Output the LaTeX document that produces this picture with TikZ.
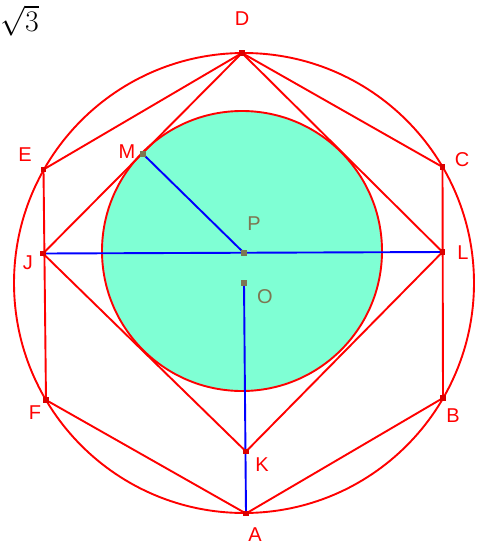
\documentclass[tikz,border=0pt]{standalone}
\usepackage{fontspec}
\newfontfamily\labfont{Liberation Sans}
\definecolor{gred}{RGB}{255,0,0}
\definecolor{gblue}{RGB}{0,0,255}
\definecolor{ggreen}{RGB}{127,255,212}
\definecolor{golive}{RGB}{125,118,82}
\definecolor{ptred}{RGB}{220,0,0}
\begin{document}
\begin{tikzpicture}[x=1pt,y=-1pt,
  redline/.style={draw=gred,line width=1.9pt,line join=round},
  blueline/.style={draw=gblue,line width=1.9pt},
  pt/.style={fill=ptred,inner sep=0pt,minimum size=5.5pt,rectangle},
  opt/.style={fill=golive,inner sep=0pt,minimum size=5.5pt,rectangle},
  lab/.style={text=gred,font=\labfont\fontsize{20}{22}\selectfont,inner sep=0pt},
  olab/.style={text=golive,font=\labfont\fontsize{20}{22}\selectfont,inner sep=0pt}]
\useasboundingbox (0,0) rectangle (477,546);
\coordinate (D) at (242,53);
\coordinate (C) at (442.5,167);
\coordinate (B) at (443,398);
\coordinate (A) at (246,513.5);
\coordinate (F) at (46,400);
\coordinate (E) at (43.5,169.5);
\coordinate (J) at (43,253.5);
\coordinate (L) at (442.5,252);
\coordinate (K) at (246,451.5);
\coordinate (M) at (143,154);
\coordinate (P) at (244,253);
\coordinate (O) at (244,283);
\coordinate (Pc) at (242,251);
% green incircle
\fill[ggreen] (Pc) circle (140);
\draw[redline] (Pc) circle (140);
% big circle
\draw[redline] (O) circle (230);
% hexagon
\draw[redline] (A) -- (B) -- (C) -- (D) -- (E) -- (F) -- cycle;
% square
\draw[redline] (D) -- (L) -- (K) -- (J) -- cycle;
% blue segments
\draw[blueline] (P) -- (M);
\draw[blueline] (J) -- (L);
\draw[blueline] (O) -- (A);
% points
\foreach \p in {A,B,C,D,E,F,J,K,L} \node[pt] (n\p) at (\p) {};
\node[opt] (nM) at (M) {};
\node[opt] (nP) at (P) {};
\node[opt] (nO) at (O) {};
% labels
\node[lab] (lD) at (242,19) {D};
\node[lab] (lC) at (462,160) {C};
\node[lab] (lB) at (453,416) {B};
\node[lab] (lA) at (255,535) {A};
\node[lab] (lF) at (35,413) {F};
\node[lab] (lE) at (25,155) {E};
\node[lab] (lJ) at (28,263) {J};
\node[lab] (lL) at (463,253) {L};
\node[lab] (lK) at (262,465) {K};
\node[lab] (lM) at (127,152) {M};
\node[olab] (lP) at (254,224) {P};
\node[olab] (lO) at (265,297) {O};
\node[inner sep=0pt,anchor=north west,scale=1.2] (sq) at (0,5) {\fontsize{24.88}{27}\selectfont$\sqrt{3}$};
\end{tikzpicture}
\end{document}
